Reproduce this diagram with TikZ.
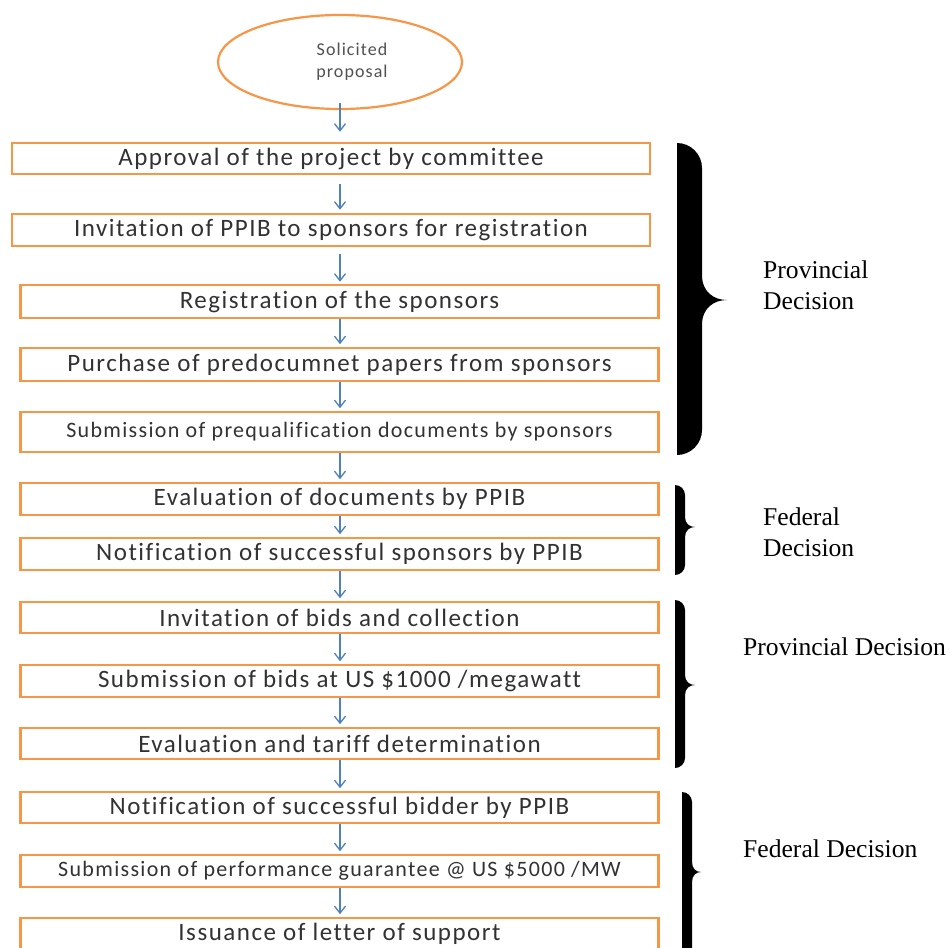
\documentclass[tikz,border=0pt]{standalone}
\usepackage{fontspec}
\setmainfont{Carlito}[LetterSpace=6,Ligatures={NoCommon}]
\newfontfamily\labelfont{Liberation Serif}
\usetikzlibrary{arrows.meta,shapes.geometric}
\definecolor{boxorange}{RGB}{247,150,70}
\definecolor{arrblue}{RGB}{79,129,189}
\definecolor{boxtext}{RGB}{50,50,50}
\newcommand{\bracefill}[6]{%
  \fill (#1,#2) .. controls (#1+0.55*#5,#2) and (#1+#5,#2+0.45*#5) .. (#1+#5,#2+#5)
   -- (#1+#5,#4-#5) .. controls (#1+#5,#4-0.3*#5) and (#6-0.5*#6+0.5*#1+0.5*#5,#4) .. (#6,#4)
   .. controls (#6-0.5*#6+0.5*#1+0.5*#5,#4) and (#1+#5,#4+0.3*#5) .. (#1+#5,#4+#5)
   -- (#1+#5,#3-#5) .. controls (#1+#5,#3-0.45*#5) and (#1+0.55*#5,#3) .. (#1,#3) -- cycle;}
\begin{document}
\begin{tikzpicture}[x=1pt,y=-1pt,
  stepbox/.style={draw=boxorange,line width=2.6pt,fill=white,minimum width=638pt,
    inner sep=0pt,text=boxtext,font=\fontsize{25}{29}\selectfont},
  smallbox/.style={stepbox,font=\fontsize{22}{26}\selectfont},
  arr/.style={draw=arrblue,line width=1.3pt,-{Straight Barb[length=7pt,width=11pt]}},
  sidelabel/.style={font=\labelfont\fontsize{25.6}{31}\selectfont,align=left,inner sep=0pt}]
\path[use as bounding box,clip] (0,0) rectangle (949,947);
\fill[white] (0,0) rectangle (949,947);
% start ellipse
\node[ellipse,draw=boxorange,line width=2.2pt,minimum width=244pt,minimum height=94pt,
  inner sep=0pt,align=center,text=boxtext!85,font=\fontsize{18}{22}\selectfont] (e) at (340,62)
  {\hspace*{24pt}Solicited\\\hspace*{24pt}proposal};
% steps
\node[stepbox,minimum height=31pt] (b1) at (331,158.5) {Approval of the project by committee};
\node[stepbox,minimum height=32pt] (b2) at (331,230) {Invitation of PPIB to sponsors for registration};
\node[stepbox,minimum height=33pt] (b3) at (339.5,301.5) {Registration of the sponsors};
\node[stepbox,minimum height=33pt] (b4) at (339.5,364.5) {Purchase of predocumnet papers from sponsors};
\node[smallbox,minimum height=40pt] (b5) at (339.5,432) {Submission of prequalification documents by sponsors};
\node[stepbox,minimum height=32pt] (b6) at (339.5,499) {Evaluation of documents by PPIB};
\node[stepbox,minimum height=32pt] (b7) at (339.5,554) {Notification of successful sponsors by PPIB};
\node[stepbox,minimum height=31pt] (b8) at (339.5,617.5) {Invitation of bids and collection};
\node[stepbox,minimum height=32pt] (b9) at (339.5,681) {Submission of bids at US \$1000 /megawatt};
\node[stepbox,minimum height=31pt] (b10) at (339.5,743.5) {Evaluation and tariff determination};
\node[stepbox,minimum height=31pt] (b11) at (339.5,807.5) {Notification of successful bidder by PPIB};
\node[smallbox,minimum height=32pt] (b12) at (339.5,871) {Submission of performance guarantee @ US \$5000 /MW};
\node[stepbox,minimum height=32pt] (b13) at (339.5,934) {Issuance of letter of support};
% arrows
\draw[arr,shorten <=-7pt,shorten >=10pt] (e.south) -- (b1.north -| e.south);
\draw[arr,shorten <=9pt,shorten >=3pt] (b1.south -| e.south) -- (b2.north -| e.south);
\draw[arr,shorten <=7pt,shorten >=2pt] (b2.south -| e.south) -- (b3.north -| e.south);
\foreach \a/\b in {b3/b4,b4/b5,b5/b6,b6/b7,b7/b8,b8/b9,b9/b10,b10/b11,b11/b12,b12/b13}
  \draw[arr,shorten >=2.5pt] (\a.south -| e.south) -- (\b.north -| e.south);
% braces
\bracefill{677}{143}{455}{300}{25}{727}
\bracefill{675}{485}{575}{527}{10}{695}
\bracefill{675}{600}{768}{685}{10}{695}
\bracefill{682}{792}{965}{872}{10}{701}
% labels
\node[sidelabel,anchor=west] (l1) at (763,285) {Provincial\\Decision};
\node[sidelabel,anchor=west] (l2) at (763,532) {Federal\\Decision};
\node[sidelabel,anchor=base west] (l3) at (743,655) {Provincial Decision};
\node[sidelabel,anchor=base west] (l4) at (743,857) {Federal Decision};
\end{tikzpicture}
\end{document}
